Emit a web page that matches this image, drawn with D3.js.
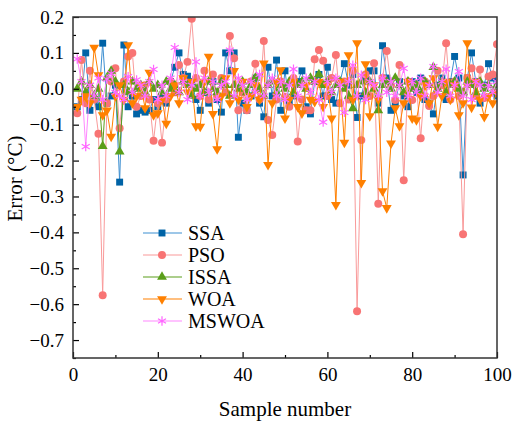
<!DOCTYPE html>
<html>
<head>
<meta charset="utf-8">
<script src="https://cdn.jsdelivr.net/npm/d3@7"></script>
<style>
  body { margin: 0; background: #fff; }
  text { font-family: "Liberation Serif", "Times New Roman", serif; fill: #000; }
</style>
</head>
<body>
<svg width="514" height="423"></svg>
<script>
// sample numbers 1..100
const samples = d3.range(1, 101);

const ssa = [-0.05,-0.03,0.10,-0.06,-0.03,-0.05,0.127,-0.04,-0.02,0.01,
  -0.26,0.122,-0.05,-0.02,-0.07,-0.06,-0.065,-0.06,-0.03,-0.05,
  -0.02,-0.04,0.02,0.06,0.10,0.04,0.035,0.02,-0.03,-0.06,
  -0.01,-0.04,0.02,-0.03,-0.065,0.10,0.05,0.10,-0.135,-0.04,
  -0.06,-0.02,0.03,-0.04,-0.078,0.06,-0.02,0.08,-0.06,0.05,
  -0.04,-0.02,0.02,0.05,-0.05,-0.07,0.02,0.04,-0.02,0.06,
  -0.03,-0.04,0.02,0.07,0.01,0.04,-0.08,-0.02,0.03,0.05,
  0.05,-0.04,0.12,0.03,-0.06,-0.04,0.02,-0.02,-0.05,0.02,
  -0.01,0.03,-0.03,-0.04,-0.07,0.01,0.03,-0.03,0.02,0.09,
  0.03,-0.24,0.03,0.10,0.02,-0.04,0.01,0.07,0.03,-0.02];

const pso = [-0.068,0.08,-0.04,0.05,-0.03,-0.125,-0.575,-0.04,0.02,0.057,
  -0.11,0.02,0.09,0.10,-0.05,-0.02,0.01,-0.03,-0.145,-0.04,
  -0.15,-0.03,0.02,-0.01,0.066,0.03,0.075,0.195,0.03,-0.02,
  0.05,-0.03,0.04,-0.02,0.03,-0.01,0.147,0.085,-0.06,-0.01,
  -0.06,0.02,0.07,-0.03,0.133,-0.087,-0.129,-0.03,0.02,-0.022,
  -0.05,0.03,-0.147,-0.03,-0.06,-0.06,0.082,0.108,0.078,-0.02,
  0.03,0.094,-0.04,0.02,-0.03,0.05,-0.62,-0.143,0.04,-0.02,
  0.071,-0.32,0.03,0.105,0.01,-0.031,0.066,-0.255,0.02,-0.031,
  0.01,-0.138,0.02,-0.048,-0.02,0.05,0.01,0.127,-0.03,0.02,
  -0.02,-0.405,0.03,0.057,-0.02,0.054,-0.026,0.034,0.04,0.124];

const issa = [0.0,0.02,-0.01,0.01,-0.02,0.0,-0.16,0.03,0.05,0.02,
  -0.175,0.01,-0.01,0.02,0.0,0.01,-0.01,0.02,0.0,0.01,
  -0.01,0.02,0.0,0.01,-0.01,0.02,0.01,-0.02,0.0,0.01,
  -0.01,0.02,0.0,-0.01,0.02,0.01,-0.02,0.01,0.0,0.02,
  -0.01,0.01,0.03,0.0,-0.02,0.01,0.02,-0.01,0.01,0.0,
  0.02,-0.01,0.01,0.02,0.0,0.03,0.02,0.04,0.01,0.02,
  -0.01,0.01,0.02,0.0,-0.02,-0.055,0.01,0.02,-0.01,0.02,
  0.0,-0.06,0.01,0.02,0.0,0.03,0.01,-0.01,0.02,0.0,
  0.01,-0.01,0.02,0.01,0.06,0.0,0.02,-0.01,0.01,0.02,
  0.0,-0.01,0.02,0.01,-0.01,0.02,0.0,0.01,-0.01,0.01];

const woa = [-0.05,-0.03,-0.02,-0.04,0.115,0.038,-0.073,-0.06,-0.133,-0.02,
  0.01,-0.03,0.122,-0.04,-0.02,0.01,-0.054,0.045,-0.073,-0.068,
  -0.03,-0.097,-0.02,0.01,-0.04,0.03,-0.01,0.02,-0.104,-0.105,
  0.02,0.09,-0.07,-0.168,-0.02,0.03,-0.04,0.05,-0.03,0.02,
  -0.05,-0.02,0.01,-0.03,0.071,-0.212,-0.04,0.02,0.052,-0.082,
  -0.03,0.02,-0.05,-0.068,0.01,-0.03,-0.036,0.02,-0.05,0.01,
  -0.082,-0.323,0.02,-0.15,0.094,-0.03,0.127,-0.262,0.069,-0.076,
  0.01,-0.03,-0.285,-0.332,-0.152,-0.054,-0.104,-0.04,0.02,-0.082,
  -0.087,-0.02,0.01,-0.04,0.03,-0.105,-0.02,0.02,-0.03,0.01,
  -0.073,-0.04,0.127,-0.052,0.02,-0.03,-0.078,-0.02,-0.04,-0.01];

const mswoa = [0.083,0.02,-0.161,0.01,-0.02,0.03,-0.03,0.027,0.043,-0.01,
  -0.02,-0.03,0.034,-0.01,0.025,0.01,-0.02,0.02,0.054,-0.03,
  0.01,-0.02,0.03,0.115,-0.01,0.02,-0.03,0.01,0.075,-0.02,
  0.03,-0.01,0.02,-0.03,0.01,0.02,0.108,-0.02,0.03,0.01,
  -0.03,0.02,-0.01,0.04,-0.02,0.01,0.03,-0.02,0.02,-0.03,
  0.01,0.055,-0.02,0.01,0.03,-0.01,0.02,-0.03,-0.093,0.02,
  -0.01,0.03,0.01,-0.066,0.02,0.066,-0.02,0.038,-0.03,0.02,
  0.01,-0.02,0.03,-0.01,0.02,-0.02,0.01,0.057,-0.02,0.02,
  -0.01,0.03,-0.02,0.01,0.062,-0.01,0.02,0.055,-0.02,0.01,
  0.048,-0.02,0.01,-0.03,0.02,0.01,-0.02,0.01,-0.01,0.02];

const seriesNames = ["SSA", "PSO", "ISSA", "WOA", "MSWOA"];
const xTicks = [0, 20, 40, 60, 80, 100];
const yTicks = [0.2, 0.1, 0.0, -0.1, -0.2, -0.3, -0.4, -0.5, -0.6, -0.7];

const series = [
  { name: "SSA", values: ssa, line: "#3d8fd1", fill: "#0063a6", symbol: d3.symbolSquare, size: 48, rot: 0 },
  { name: "PSO", values: pso, line: "#f99a9a", fill: "#f87474", symbol: d3.symbolCircle, size: 50, rot: 0 },
  { name: "ISSA", values: issa, line: "#5a9e1a", fill: "#5a9e1a", symbol: d3.symbolTriangle, size: 42, rot: 0 },
  { name: "WOA", values: woa, line: "#ff8000", fill: "#ff8000", symbol: d3.symbolTriangle, size: 42, rot: 180 },
  { name: "MSWOA", values: mswoa, line: "#ff88ff", fill: "#ff66ff", symbol: d3.symbolAsterisk, size: 60, rot: 0, stroke: true }
];

const margin = { top: 17, right: 17, bottom: 65, left: 73 };
const width = 514 - margin.left - margin.right;
const height = 423 - margin.top - margin.bottom;

const svg = d3.select("svg");
const g = svg.append("g")
  .attr("transform", `translate(${margin.left},${margin.top})`);

const xScale = d3.scaleLinear().domain([0, 100]).range([0, width]);
const yScale = d3.scaleLinear().domain([-0.75, 0.2]).range([height, 0]);

// clip so the lines stay inside the frame
g.append("clipPath").attr("id", "clip")
  .append("rect").attr("width", width).attr("height", height);

const plot = g.append("g").attr("clip-path", "url(#clip)");

const line = d3.line()
  .x((d, i) => xScale(samples[i]))
  .y(d => yScale(d));

series.forEach(s => {
  plot.append("path")
    .datum(s.values)
    .attr("fill", "none")
    .attr("stroke", s.line)
    .attr("stroke-width", 1)
    .attr("d", line);

  const sym = d3.symbol().type(s.symbol).size(s.size);
  plot.selectAll(null)
    .data(s.values)
    .enter().append("path")
    .attr("d", sym)
    .attr("transform", (d, i) => `translate(${xScale(samples[i])},${yScale(d)}) rotate(${s.rot})`)
    .attr("fill", s.stroke ? "none" : s.fill)
    .attr("stroke", s.stroke ? s.fill : "none")
    .attr("stroke-width", s.stroke ? 1.2 : 0);
});

// axes with inward ticks
const xAxis = d3.axisBottom(xScale).tickValues(xTicks).tickSize(-6).tickPadding(10).tickFormat(d3.format("d"));
const xMinor = d3.axisBottom(xScale).tickValues([10, 30, 50, 70, 90]).tickSize(-3).tickFormat("");
const yAxis = d3.axisLeft(yScale).tickValues(yTicks).tickSize(-6).tickPadding(9).tickFormat(d3.format(".1f"));
const yMinor = d3.axisLeft(yScale).tickValues(d3.range(-0.75, 0.2, 0.1).map(v => +(v).toFixed(2))).tickSize(-3).tickFormat("");

g.append("g").attr("transform", `translate(0,${height})`).call(xMinor);
g.append("g").attr("transform", `translate(0,${height})`).call(xAxis);
g.append("g").call(yMinor);
g.append("g").call(yAxis);

g.selectAll(".domain").remove();
g.selectAll(".tick line").attr("stroke", "#000").attr("stroke-width", 1.2);
g.selectAll(".tick text").style("font-size", "19px");

// frame
g.append("rect")
  .attr("width", width).attr("height", height)
  .attr("fill", "none").attr("stroke", "#333").attr("stroke-width", 1.5);

// axis titles
svg.append("text")
  .attr("x", margin.left + width / 2).attr("y", 416)
  .attr("text-anchor", "middle").style("font-size", "21px")
  .text("Sample number");

svg.append("text")
  .attr("transform", `translate(22,${margin.top + yScale(-0.25)}) rotate(-90)`)
  .attr("text-anchor", "middle").style("font-size", "21px")
  .text("Error (°C)");

// legend
const legend = g.append("g");
series.forEach((s, k) => {
  const ly = 216 + k * 22;
  legend.append("line")
    .attr("x1", 70).attr("x2", 109).attr("y1", ly).attr("y2", ly)
    .attr("stroke", s.line).attr("stroke-width", 1.2);
  legend.append("path")
    .attr("d", d3.symbol().type(s.symbol).size(s.size)())
    .attr("transform", `translate(89,${ly}) rotate(${s.rot})`)
    .attr("fill", s.stroke ? "none" : s.fill)
    .attr("stroke", s.stroke ? s.fill : "none")
    .attr("stroke-width", s.stroke ? 1.2 : 0);
  legend.append("text")
    .attr("x", 115).attr("y", ly).attr("dy", "0.35em")
    .style("font-size", "20px")
    .text(seriesNames[k]);
});
</script>
</body>
</html>
